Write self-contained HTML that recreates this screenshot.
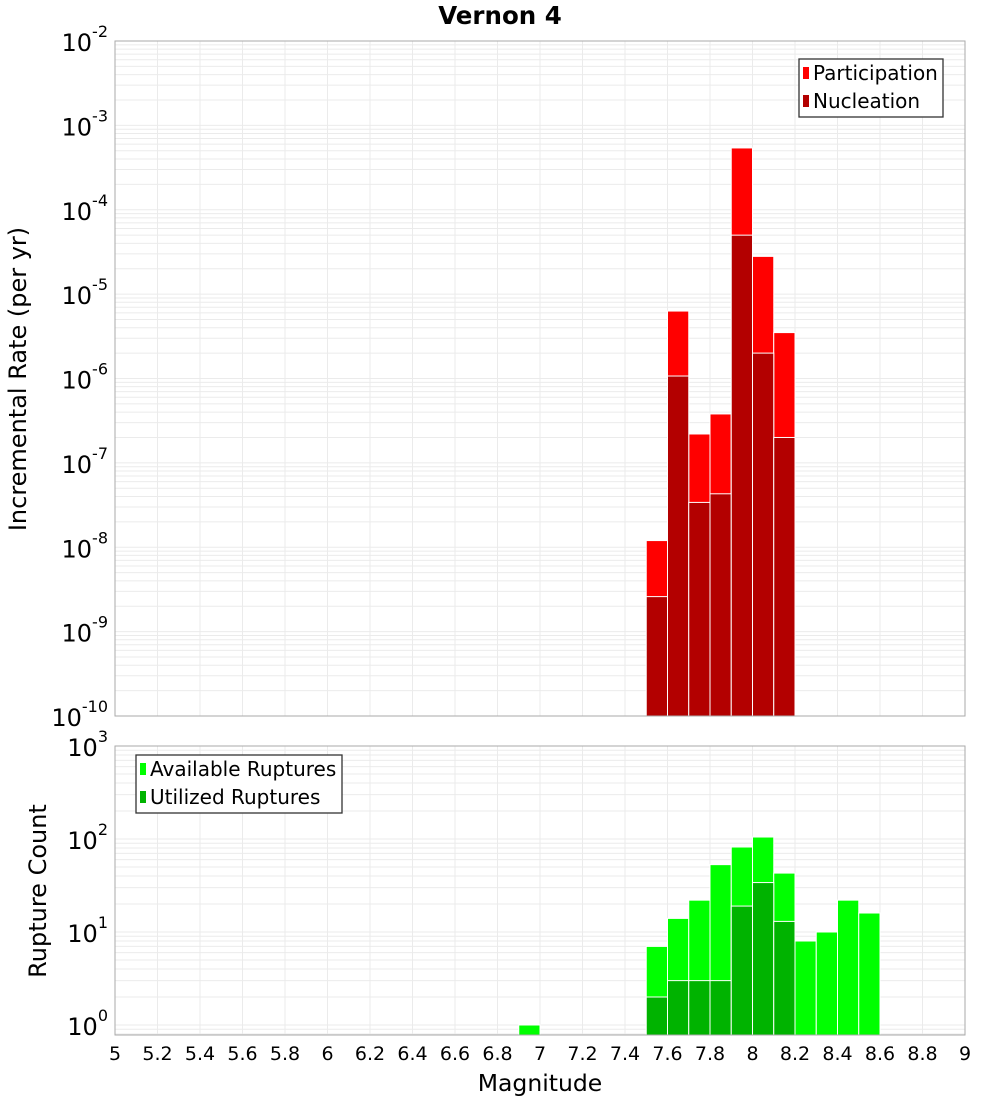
<!DOCTYPE html>
<html><head><meta charset="utf-8">
<style>
body{margin:0;background:#fff;}
svg text{font-family:"DejaVu Sans","Liberation Sans",sans-serif;}
</style></head>
<body>
<svg id="chart" width="1000" height="1100" xmlns="http://www.w3.org/2000/svg">
<rect width="1000" height="1100" fill="#fff"/>
<text x="500" y="24" text-anchor="middle" font-size="24.5" font-weight="bold">Vernon 4</text>
<g id="topPanel"></g>
<g id="botPanel"></g>
</svg>
<script>
const magCenters = [7.55, 7.65, 7.75, 7.85, 7.95, 8.05, 8.15];
const participation = [1.2e-8, 6.3e-6, 2.2e-7, 3.8e-7, 5.4e-4, 2.8e-5, 3.5e-6];
const nucleation = [2.6e-9, 1.07e-6, 3.4e-8, 4.3e-8, 5.0e-5, 2.0e-6, 2.0e-7];
const countCenters = [6.95, 7.55, 7.65, 7.75, 7.85, 7.95, 8.05, 8.15, 8.25, 8.35, 8.45, 8.55];
const available = [1, 7, 14, 22, 53, 82, 105, 43, 8, 10, 22, 16];
const utilized = [0, 2, 3, 3, 3, 19, 34, 13, 0, 0, 0, 0];
const xTicks = [5,5.2,5.4,5.6,5.8,6,6.2,6.4,6.6,6.8,7,7.2,7.4,7.6,7.8,8,8.2,8.4,8.6,8.8,9];
const topExps = [-2,-3,-4,-5,-6,-7,-8,-9,-10];
const botExps = [3,2,1,0];

const NS="http://www.w3.org/2000/svg";
const L=115,R=965;
function xs(m){return L+(m-5)/4*(R-L);}
const tT=41,tB=716;
function yTop(v){return tT+(-2-Math.log10(v))*(tB-tT)/8;}
const bT=746,bB=1035,dec=93;
function yBot(v){return bT+(3-Math.log10(v))*dec;}
function el(p,tag,a){const e=document.createElementNS(NS,tag);for(const k in a)e.setAttribute(k,a[k]);p.appendChild(e);return e;}
const gTop=document.getElementById('topPanel'),gBot=document.getElementById('botPanel');

function grid(g,yT,yB,yf,eMin,eMax,name){
  for(let e=eMin;e<eMax;e++)for(let k=1;k<10;k++){const y=yf(k*Math.pow(10,e));if(y<yT||y>yB)continue;
    const l=el(g,'line',{x1:L,x2:R,y1:y,y2:y,stroke:'#ebebeb','stroke-width':1});
    
    }
  xTicks.forEach(t=>{const l=el(g,'line',{x1:xs(t),x2:xs(t),y1:yT,y2:yB,stroke:'#ebebeb','stroke-width':1});
    
    });
}
grid(gTop,tT,tB,yTop,-10,-2,'top');
grid(gBot,bT,bB,yBot,-1,3,'bottom');

function bar(g,m,v,yf,base,color,name){
  const y=yf(v);const r=el(g,'rect',{x:xs(m-0.05),y:y,width:xs(m+0.05)-xs(m-0.05),height:base-y,fill:color,stroke:'#fff','stroke-width':1});
  
  
}
magCenters.forEach((m,i)=>{bar(gTop,m,participation[i],yTop,tB,'#ff0000','participation-bar');});
magCenters.forEach((m,i)=>{bar(gTop,m,nucleation[i],yTop,tB,'#b30000','nucleation-bar');});
countCenters.forEach((m,i)=>{if(available[i]>0)bar(gBot,m,available[i],yBot,bB,'#00ff00','available-bar');});
countCenters.forEach((m,i)=>{if(utilized[i]>0)bar(gBot,m,utilized[i],yBot,bB,'#00b300','utilized-bar');});

let f=el(gTop,'rect',{x:L,y:tT,width:R-L,height:tB-tT,fill:'none',stroke:'#aaa'});


f=el(gBot,'rect',{x:L,y:bT,width:R-L,height:bB-bT,fill:'none',stroke:'#aaa'});



function ylab(g,e,y,name){
  const t=el(g,'text',{x:108,y:y+10,'text-anchor':'end','font-size':24});
  
  
  const s1=document.createElementNS(NS,'tspan');s1.textContent='10';t.appendChild(s1);
  const s2=document.createElementNS(NS,'tspan');s2.setAttribute('dy','-14');s2.setAttribute('font-size','16');s2.textContent=String(e);t.appendChild(s2);
}
topExps.forEach(e=>ylab(gTop,e,yTop(Math.pow(10,e)),'top-y-tick-label'));
botExps.forEach(e=>ylab(gBot,e,yBot(Math.pow(10,e)),'bottom-y-tick-label'));

xTicks.forEach(t=>{const tx=el(gBot,'text',{x:xs(t),y:1060,'text-anchor':'middle','font-size':19});
  
  
  tx.textContent=String(t);});

let a=el(gTop,'text',{x:0,y:0,'text-anchor':'middle','font-size':24,transform:'translate(26,379) rotate(-90)'});


a.textContent='Incremental Rate (per yr)';
a=el(gBot,'text',{x:0,y:0,'text-anchor':'middle','font-size':24,transform:'translate(46,891) rotate(-90)'});


a.textContent='Rupture Count';
a=el(gBot,'text',{x:540,y:1091,'text-anchor':'middle','font-size':23.5});


a.textContent='Magnitude';

function legend(g,x0,y0,w,h,items,name){
  const lg=el(g,'g',{});
  
  
  el(lg,'rect',{x:x0,y:y0,width:w,height:h,fill:'#fff',stroke:'#333','stroke-width':1.3});
  items.forEach((it,i)=>{
    const yy=y0+14+i*28;
    el(lg,'rect',{x:x0+4,y:yy-6,width:6,height:12,fill:it[1]});
    const t=el(lg,'text',{x:x0+14,y:yy+7,'font-size':20});
    
    
    t.textContent=it[0];
  });
}
legend(gTop,799,59,144,58,[['Participation','#ff0000'],['Nucleation','#b30000']],'top-legend');
legend(gBot,136,755,206,58,[['Available Ruptures','#00ff00'],['Utilized Ruptures','#00b300']],'bottom-legend');
</script>
</body></html>
